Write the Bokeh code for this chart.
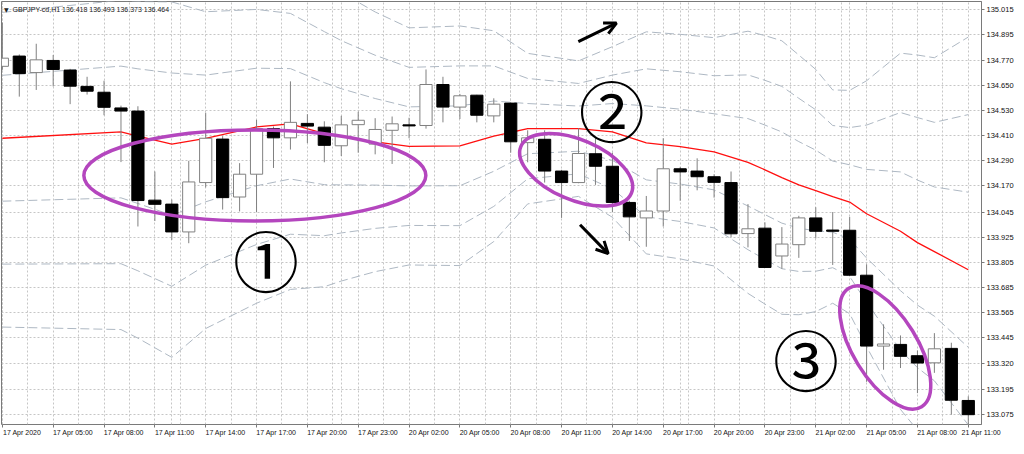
import math
from bokeh.plotting import figure
from bokeh.models import (Range1d, FixedTicker, NumeralTickFormatter, Arrow, OpenHead,
                          LinearAxis, Grid)
from bokeh.core.properties import value
from bokeh.embed import file_html
from bokeh.resources import INLINE

# ---------------- data ----------------
bars = list(range(58))
opens = [134.742, 134.791, 134.712, 134.770, 134.724, 134.646, 134.618, 134.543, 134.528, 134.102,
         134.083, 133.950, 134.186, 134.394, 134.117, 134.226, 134.444, 134.400, 134.469, 134.451,
         134.362, 134.463, 134.370, 134.436, 134.462, 134.459, 134.655, 134.547, 134.604, 134.505,
         134.566, 134.377, 134.393, 134.241, 134.186, 134.324, 134.264, 134.091, 134.017, 134.050,
         134.252, 134.241, 134.214, 134.186, 133.942, 133.968, 133.835, 133.889, 134.017, 133.959,
         133.958, 133.743, 133.404, 133.412, 133.358, 133.324, 133.393, 133.144]
highs = [134.951, 134.799, 134.850, 134.796, 134.730, 134.692, 134.673, 134.554, 134.551, 134.239,
         134.105, 134.290, 134.520, 134.408, 134.279, 134.486, 134.454, 134.670, 134.513, 134.479,
         134.505, 134.525, 134.494, 134.502, 134.496, 134.727, 134.692, 134.610, 134.606, 134.589,
         134.569, 134.436, 134.436, 134.247, 134.446, 134.405, 134.329, 134.099, 134.122, 134.398,
         134.261, 134.302, 134.226, 134.239, 134.083, 133.996, 133.973, 134.027, 134.068, 134.045,
         134.022, 133.795, 133.508, 133.455, 133.383, 133.466, 133.420, 133.164]
lows = [134.725, 134.597, 134.629, 134.646, 134.561, 134.607, 134.508, 134.284, 133.976, 134.002,
        133.912, 133.896, 134.163, 134.057, 134.048, 134.045, 134.256, 134.344, 134.375, 134.283,
        134.313, 134.329, 134.321, 134.275, 134.398, 134.444, 134.474, 134.490, 134.474, 134.474,
        134.329, 134.283, 134.186, 134.017, 134.183, 134.175, 134.045, 133.907, 133.879, 133.976,
        134.099, 134.149, 134.114, 133.925, 133.876, 133.778, 133.774, 133.826, 133.919, 133.792,
        133.739, 133.233, 133.291, 133.299, 133.179, 133.276, 133.076, 133.024]
closes = [134.781, 134.707, 134.773, 134.727, 134.647, 134.623, 134.546, 134.528, 134.100, 134.082,
          133.950, 134.189, 134.398, 134.114, 134.226, 134.444, 134.400, 134.474, 134.456, 134.364,
          134.462, 134.484, 134.440, 134.467, 134.457, 134.655, 134.547, 134.601, 134.508, 134.561,
          134.381, 134.400, 134.241, 134.186, 134.325, 134.264, 134.091, 134.022, 134.050, 134.252,
          134.237, 134.214, 134.187, 133.941, 133.965, 133.780, 133.892, 134.017, 133.953, 133.953,
          133.743, 133.404, 133.414, 133.355, 133.323, 133.391, 133.145, 133.076]

# Bollinger middle line (red) and band deviation, read at the line's vertices
ma_bars = [0, 7, 8, 10, 12, 15, 17, 19, 20, 22, 24, 27, 29, 31, 34, 36, 38, 40, 42, 44,
           45, 46, 47, 48, 49, 50, 51, 53, 54, 55, 57]
ma_values = [134.398, 134.428, 134.408, 134.370, 134.397, 134.452, 134.467, 134.420, 134.405, 134.381,
             134.359, 134.362, 134.408, 134.444, 134.444, 134.428, 134.376, 134.358, 134.333, 134.283,
             134.247, 134.210, 134.175, 134.148, 134.119, 134.093, 134.037, 133.953, 133.899, 133.856,
             133.769]
band_sd = [0.301, 0.315, 0.322, 0.340, 0.303, 0.281, 0.264, 0.244, 0.230, 0.207,
           0.189, 0.191, 0.168, 0.120, 0.108, 0.136, 0.177, 0.179, 0.182, 0.209,
           0.214, 0.218, 0.207, 0.193, 0.170, 0.178, 0.212, 0.284, 0.299, 0.309,
           0.371]

time_tick_bars = [0, 3, 6, 9, 12, 15, 18, 21, 24, 27, 30, 33, 36, 39, 42, 45, 48, 51, 54, 57]
time_tick_labels = ["17 Apr 2020", "17 Apr 05:00", "17 Apr 08:00", "17 Apr 11:00", "17 Apr 14:00",
                    "17 Apr 17:00", "17 Apr 20:00", "17 Apr 23:00", "20 Apr 02:00", "20 Apr 05:00",
                    "20 Apr 08:00", "20 Apr 11:00", "20 Apr 14:00", "20 Apr 17:00", "20 Apr 20:00",
                    "20 Apr 23:00", "21 Apr 02:00", "21 Apr 05:00", "21 Apr 08:00", "21 Apr 11:00"]
price_ticks = [135.015, 134.895, 134.770, 134.650, 134.530, 134.410, 134.290, 134.170, 134.045,
               133.925, 133.805, 133.685, 133.565, 133.445, 133.320, 133.195, 133.075]
title_text = "GBPJPY-cd,H1  136.418 136.493 136.373 136.464"
marks = ["①", "②", "③"]

# ---------------- figure ----------------
GRAY = "#7a7a7a"
FONT = "Liberation Sans"
X_START, X_END = -0.05, 57.78
p = figure(width=1016, height=438, output_backend="svg", toolbar_location=None,
           x_range=Range1d(X_START, X_END), y_range=Range1d(133.029, 135.052),
           x_axis_location=None, y_axis_location="right",
           min_border_left=1, min_border_top=1, min_border_right=0, min_border_bottom=0)
p.background_fill_color = "white"
p.border_fill_color = "white"
p.outline_line_color = GRAY

# price axis (right)
ya = p.yaxis[0]
ya.ticker = FixedTicker(ticks=price_ticks, minor_ticks=[])
ya.formatter = NumeralTickFormatter(format="0.000")
ya.major_label_text_font_size = "7.5px"
ya.major_label_standoff = 2
ya.axis_line_color = GRAY
ya.major_tick_line_color = GRAY
ya.major_tick_out = 3
ya.major_tick_in = 0

# time axis: tick marks (minor ticks) on the bars, labels start at the tick (MT4 style)
half_label = 1.17   # half a label's width, in bars
label_pos = [min(b + half_label, X_END - 0.01) for b in time_tick_bars]
xa = LinearAxis(ticker=FixedTicker(ticks=label_pos, minor_ticks=time_tick_bars),
                major_label_overrides={t: l for t, l in zip(label_pos, time_tick_labels)},
                axis_line_color=None, major_tick_line_color=None,
                minor_tick_line_color=GRAY, major_tick_out=3, major_tick_in=0,
                minor_tick_out=3, minor_tick_in=0,
                major_label_text_font_size="7px", major_label_standoff=1)
p.add_layout(xa, "below")
for ax in (ya, xa):
    ax.major_label_text_font = FONT
    ax.major_label_text_color = "#111111"

p.add_layout(Grid(dimension=0, ticker=FixedTicker(ticks=[k * 1.5 for k in range(40)])))
for g in p.grid:
    g.grid_line_color = "#c6c6c6"
    g.grid_line_dash = "2 2"
    g.grid_line_width = 1

# bands
for k in (1, 2, 3):
    up = [m + k * s for m, s in zip(ma_values, band_sd)]
    lo = [m - k * s for m, s in zip(ma_values, band_sd)]
    p.line(ma_bars, up, line_color="#aeb8c3", line_dash="9 4", line_width=1)
    p.line(ma_bars, lo, line_color="#aeb8c3", line_dash="9 4", line_width=1)
p.line(ma_bars, ma_values, line_color="#ff1010", line_width=1.3)

# candles
p.segment(x0=bars, y0=highs, x1=bars, y1=lows, line_color="#808080", line_width=1)
bull = [i for i in bars if closes[i] >= opens[i]]
bear = [i for i in bars if closes[i] < opens[i]]
p.vbar(x=bull, width=0.72, top=[closes[i] for i in bull], bottom=[opens[i] for i in bull],
       fill_color="white", line_color="#808080", line_width=1)
p.vbar(x=bear, width=0.72, top=[opens[i] for i in bear], bottom=[closes[i] for i in bear],
       fill_color="black", line_color="black", line_width=1)

# annotations
p.ellipse(x=[14.9, 33.86, 52.1], y=[134.220, 134.247, 133.397],
          width=[342, 120, 139], height=[91, 60, 64],
          angle=[0, -math.radians(23), -math.radians(58.4)],
          width_units="screen", height_units="screen",
          fill_color=None, line_color="#b446be", line_width=3.5)
p.text(x=[15.56, 35.96, 47.43], y=[133.824, 134.5415, 133.3507], text=marks,
       text_font=value("Noto Sans CJK JP"), text_font_size="66px", text_color="black",
       text_align="center", text_baseline="middle")
for (x0, y0, x1, y1) in [(33.99, 134.860, 36.24, 134.949), (34.09, 133.984, 35.75, 133.846)]:
    p.add_layout(Arrow(end=OpenHead(size=12, line_width=3, line_color="black"),
                       x_start=x0, y_start=y0, x_end=x1, y_end=y1,
                       line_width=3, line_color="black"))

p.text(x=[0.1], y=[135.015], text=["▼"], text_font=value("DejaVu Sans"), text_font_size="6px",
       text_color="#222222", text_align="left", text_baseline="middle")
p.text(x=[0.6], y=[135.015], text=[title_text], text_font=value(FONT),
       text_font_size="7px", text_color="#222222", text_align="left", text_baseline="middle")

open("out.html", "w").write(file_html(p, INLINE))
